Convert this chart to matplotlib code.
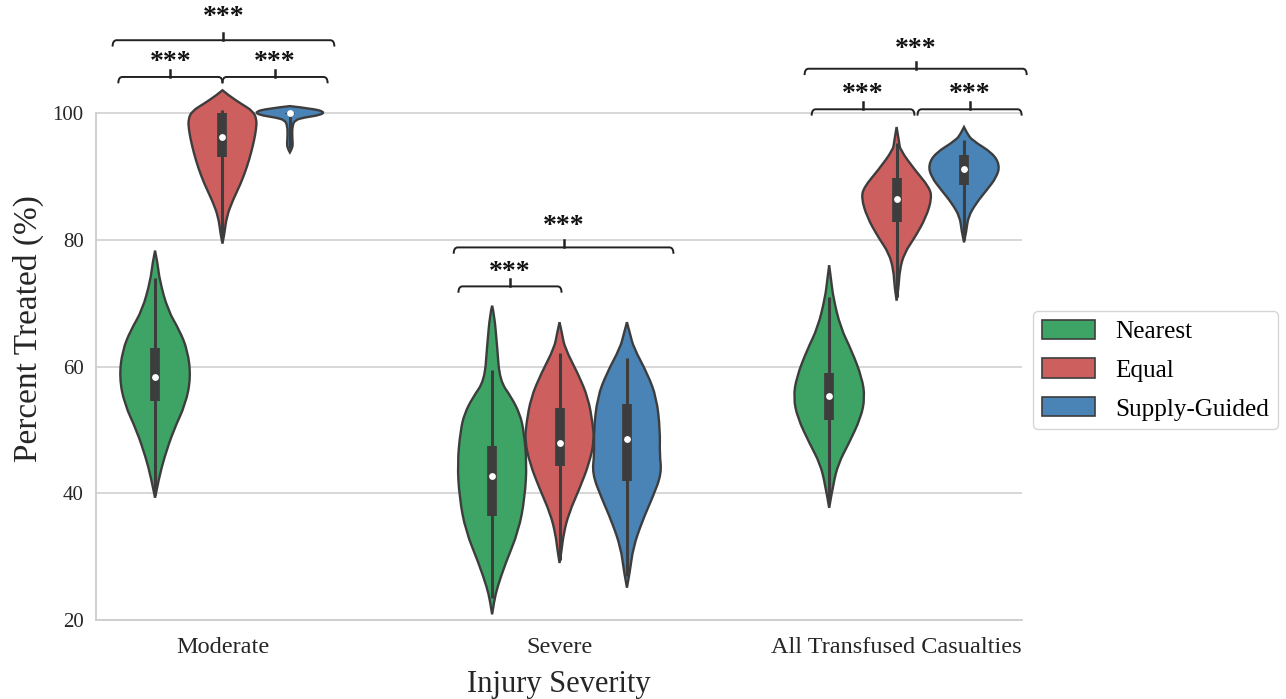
import matplotlib.pyplot as plt
from matplotlib.path import Path
from matplotlib.patches import PathPatch, Patch

plt.rcParams['font.family'] = ['Liberation Serif', 'DejaVu Serif']

categories = ['Moderate', 'Severe', 'All Transfused Casualties']
methods = ['Nearest', 'Equal', 'Supply-Guided']
colors = ['#3da466', '#cd5f5f', '#4a83b6']

# violin outlines: percent levels (top -> bottom) and relative density
mod_nearest_y = [78.3, 76.3, 73.6, 68.9, 65.7, 62.5, 58.3, 54.1, 49.9, 45.6, 42.5, 39.3]
mod_nearest_d = [0, 2.5, 4.5, 12.5, 24, 32, 35, 30, 18, 9, 4, 0]
mod_equal_y = [103.6, 102.8, 101.5, 100.3, 99.0, 97.5, 95.7, 93.7, 91.5, 88.9, 86.2, 83.6, 81.0, 79.4]
mod_equal_d = [0, 6, 18, 30, 33.5, 33, 31, 28, 24, 18, 10, 4, 2, 0]
mod_supply_y = [101.1, 100.7, 100.2, 99.7, 99.3, 98.9, 98.0, 96.5, 95.3, 94.5, 93.8]
mod_supply_d = [0, 22, 34, 30, 14, 5, 2.5, 2.2, 2.8, 2.5, 0]

sev_nearest_y = [69.6, 68.4, 63.0, 57.8, 55.1, 52.6, 49.9, 44.7, 39.3, 34.1, 28.9, 25.1, 23.0, 20.9]
sev_nearest_d = [0, 2, 5, 7.5, 19, 27, 31, 34, 32, 26, 13, 5, 2, 0]
sev_equal_y = [67.0, 65.2, 63.0, 58.9, 55.1, 51.0, 48.3, 44.7, 40.9, 36.8, 33.6, 31.0, 29.0]
sev_equal_d = [0, 2.5, 5, 18, 28, 32.5, 34, 29, 20, 9, 4, 2, 0]
sev_supply_y = [67.0, 65.2, 63.0, 58.9, 55.1, 49.9, 46.2, 43.1, 39.3, 35.6, 31.4, 27.7, 25.1]
sev_supply_d = [0, 3, 6.5, 20, 29, 32.5, 32, 34, 25, 15, 6, 3, 0]

all_nearest_y = [76.0, 73.5, 70.9, 66.2, 62.5, 58.3, 55.1, 51.9, 47.8, 44.7, 41.5, 37.7]
all_nearest_d = [0, 2, 4, 11, 22, 32, 35, 31, 19, 9, 4, 0]
all_equal_y = [97.8, 95.4, 94.2, 91.0, 88.3, 86.6, 83.6, 80.4, 77.9, 75.2, 72.5, 70.4]
all_equal_d = [0, 2.5, 3.5, 18, 32, 34.5, 29, 18, 7.5, 3, 2, 0]
all_supply_y = [97.8, 96.8, 95.7, 93.7, 91.8, 89.9, 87.8, 85.8, 83.6, 81.5, 79.6]
all_supply_d = [0, 3, 8, 28, 35, 32, 22, 12, 4, 2.5, 0]

# inner box: whisker low, q1, median, q3, whisker high
box_moderate = [[39.8, 54.6, 58.3, 63.0, 73.9],
                [80.0, 93.0, 96.2, 100.0, 100.5],
                [94.5, 99.8, 100.0, 100.0, 100.0]]
box_severe = [[23.5, 36.4, 42.8, 47.5, 59.4],
              [29.5, 44.3, 48.0, 53.5, 62.2],
              [27.0, 42.0, 48.6, 54.1, 61.4]]
box_all = [[38.5, 51.5, 55.4, 59.0, 70.9],
           [71.0, 82.8, 86.4, 89.7, 95.3],
           [80.0, 88.6, 91.1, 93.4, 95.7]]

profiles = [
    [(mod_nearest_y, mod_nearest_d), (mod_equal_y, mod_equal_d), (mod_supply_y, mod_supply_d)],
    [(sev_nearest_y, sev_nearest_d), (sev_equal_y, sev_equal_d), (sev_supply_y, sev_supply_d)],
    [(all_nearest_y, all_nearest_d), (all_equal_y, all_equal_d), (all_supply_y, all_supply_d)],
]
boxes = [box_moderate, box_severe, box_all]

# significance brackets: x start, x end, bracket height, star height
sig_brackets = [
    (-0.309, 0.000, 105.7, 108.7), (0.000, 0.312, 105.7, 108.7), (-0.326, 0.332, 111.5, 115.8),
    (0.700, 1.006, 72.65, 75.5), (0.686, 1.338, 78.8, 82.8),
    (1.748, 2.053, 100.6, 103.6), (2.062, 2.371, 100.6, 103.6), (1.727, 2.386, 107.0, 110.75),
]

edge = '#3d3d3d'
dodge = 0.2
max_half = 0.106


def spline_side(pts, verts, codes):
    # quadratic b-spline through the outline points, ends fixed
    n = len(pts)
    for i in range(1, n - 1):
        verts.append(pts[i])
        codes.append(Path.CURVE3)
        if i < n - 2:
            verts.append(((pts[i][0] + pts[i + 1][0]) / 2, (pts[i][1] + pts[i + 1][1]) / 2))
        else:
            verts.append(pts[-1])
        codes.append(Path.CURVE3)


def violin_patch(xc, ys, ds, scale, color):
    right = [(xc + d * scale, y) for y, d in zip(ys, ds)]
    left = [(xc - d * scale, y) for y, d in zip(ys, ds)][::-1]
    verts, codes = [right[0]], [Path.MOVETO]
    spline_side(right, verts, codes)
    spline_side(left, verts, codes)
    verts.append(right[0])
    codes.append(Path.CLOSEPOLY)
    return PathPatch(Path(verts, codes), facecolor=color, edgecolor=edge, lw=1.7, zorder=2)


def draw_bracket(ax, x1, x2, y, ys, dy_end=1.0, dy_mid=1.1, cx=0.012):
    verts = [(x1, y - dy_end), (x1, y), (x1 + cx, y), (x2 - cx, y), (x2, y), (x2, y - dy_end)]
    codes = [Path.MOVETO, Path.CURVE3, Path.CURVE3, Path.LINETO, Path.CURVE3, Path.CURVE3]
    ax.add_patch(PathPatch(Path(verts, codes), fill=False, edgecolor='#222222', lw=1.4,
                           clip_on=False, zorder=4))
    xm = (x1 + x2) / 2
    ax.plot([xm, xm], [y, y + dy_mid], color='#222222', lw=1.8, clip_on=False, zorder=4)
    ax.text(xm, ys - 1.7, '***', ha='center', va='baseline', fontsize=20, fontweight='bold',
            color='#111111', clip_on=False)


fig = plt.figure(figsize=(12.86, 6.99), dpi=100)
ax = fig.add_axes([0.0747, 0.113, 0.720, 0.834])

dmax = max(max(d) for grp in profiles for _, d in grp)
scale = max_half / dmax

for i, grp in enumerate(profiles):
    for j, (ys, ds) in enumerate(grp):
        xc = i + (j - 1) * dodge
        ax.add_patch(violin_patch(xc, ys, ds, scale, colors[j]))
        lo, q1, med, q3, hi = boxes[i][j]
        ax.plot([xc, xc], [lo, hi], color=edge, lw=2.2, solid_capstyle='butt', zorder=3)
        ax.plot([xc, xc], [q1, q3], color=edge, lw=7, solid_capstyle='butt', zorder=3)
        ax.scatter([xc], [med], s=24, color='white', zorder=5, linewidths=0)

for x1, x2, y, ys in sig_brackets:
    draw_bracket(ax, x1, x2, y, ys)

ax.set_xlim(-0.375, 2.372)
ax.set_ylim(20, 112)
ax.set_xticks(range(len(categories)))
ax.set_xticklabels(categories, fontsize=17.5, color='#262626')
ax.set_yticks([20, 40, 60, 80, 100])
ax.tick_params(axis='y', labelsize=15, labelcolor='#262626', length=0, pad=9)
ax.tick_params(axis='x', length=0, pad=12)
ax.yaxis.grid(True, color='#d4d4d4', lw=1.3)
ax.set_axisbelow(True)
for s in ['top', 'right']:
    ax.spines[s].set_visible(False)
for s in ['left', 'bottom']:
    ax.spines[s].set_color('#cccccc')
    ax.spines[s].set_linewidth(1.3)
ax.spines['left'].set_bounds(20, 100)

ax.set_xlabel('Injury Severity', fontsize=22, color='#262626', labelpad=9)
ax.set_ylabel('Percent Treated (%)', fontsize=24, color='#262626', labelpad=6)

handles = [Patch(facecolor=c, edgecolor=edge, lw=1.2, label=m) for c, m in zip(colors, methods)]
fig.legend(handles=handles, loc='upper left', bbox_to_anchor=(1033 / 1286, 1 - 311 / 699),
           bbox_transform=fig.transFigure, borderaxespad=0, fontsize=18.2, frameon=True,
           edgecolor='#cccccc', handlelength=2.1, handleheight=0.8, handletextpad=0.8,
           labelspacing=0.6, borderpad=0.35)

fig.savefig('out.png', dpi=100)
